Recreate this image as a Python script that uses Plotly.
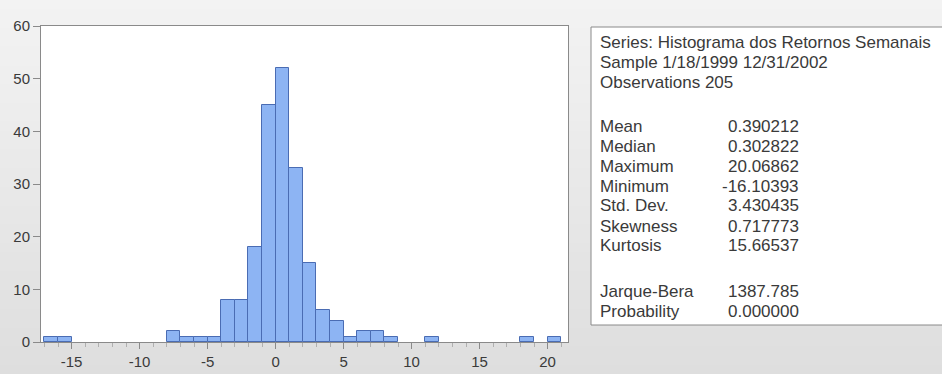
import plotly.graph_objects as go

# Histogram of weekly returns: bins of width 1, labelled by their left edge
bin_start = [-17, -16, -8, -7, -6, -5, -4, -3, -2, -1, 0, 1, 2, 3, 4, 5, 6, 7, 8, 11, 18, 20]
counts = [1, 1, 2, 1, 1, 1, 8, 8, 18, 45, 52, 33, 15, 6, 4, 1, 2, 2, 1, 1, 1, 1]

x_ticks = [-15, -10, -5, 0, 5, 10, 15, 20]
x_tick_labels = ["-15", "-10", "-5", "0", "5", "10", "15", "20"]
y_ticks = [0, 10, 20, 30, 40, 50, 60]

header_lines = [
    "Series: Histograma dos Retornos Semanais",
    "Sample 1/18/1999 12/31/2002",
    "Observations 205",
]
stat_names = ["Mean", "Median", "Maximum", "Minimum", "Std. Dev.", "Skewness", "Kurtosis"]
stat_values = ["0.390212", "0.302822", "20.06862", "-16.10393", "3.430435", "0.717773", "15.66537"]
test_names = ["Jarque-Bera", "Probability"]
test_values = ["1387.785", "0.000000"]

W, H = 942, 374
ML, MR, MT, MB = 41, 374, 26, 32
PW, PH = W - ML - MR, H - MT - MB


def px(x):
    return (x - ML) / PW


def py(y):
    return (H - MB - y) / PH


FONT = "Liberation Sans, Arial, sans-serif"
TXT = "#3a3a3a"

fig = go.Figure()
fig.add_trace(go.Bar(
    x=[b + 0.5 for b in bin_start],
    y=counts,
    width=1,
    marker=dict(color="#8db4f3", line=dict(color="#4a6cb3", width=1)),
    hoverinfo="x+y",
))

shapes = []
# soft vertical gradient behind everything
n = 40
top_c, bot_c = (243, 243, 243), (222, 222, 222)
for i in range(n):
    t = i / (n - 1)
    c = tuple(round(top_c[k] + (bot_c[k] - top_c[k]) * t) for k in range(3))
    y0 = H * i / n
    y1 = H * (i + 1) / n + 1
    shapes.append(dict(type="rect", xref="paper", yref="paper", layer="below",
                       x0=px(-5), x1=px(W + 5), y0=py(y1), y1=py(y0),
                       fillcolor="rgb(%d,%d,%d)" % c, line=dict(width=0)))
# white plot area
shapes.append(dict(type="rect", xref="paper", yref="paper", layer="below",
                   x0=0, x1=1, y0=0, y1=1, fillcolor="white", line=dict(width=0)))
# statistics panel
shapes.append(dict(type="rect", xref="paper", yref="paper", layer="below",
                   x0=px(591), x1=px(W + 10), y0=py(325), y1=py(27),
                   fillcolor="white", line=dict(color="#8a8a8a", width=1)))

annotations = []


def txt(x, y, s, anchor):
    annotations.append(dict(xref="paper", yref="paper", x=px(x), y=py(y), text=s,
                            showarrow=False, xanchor=anchor, yanchor="middle",
                            font=dict(family=FONT, size=17, color=TXT)))


ys = [43, 63, 83]
for s, y in zip(header_lines, ys):
    txt(598, y, s, "left")
for i, (nm, v) in enumerate(zip(stat_names, stat_values)):
    y = 126 + 20 * i
    txt(598, y, nm, "left")
    txt(801, y, v, "right")
for i, (nm, v) in enumerate(zip(test_names, test_values)):
    y = 291 + 20 * i
    txt(598, y, nm, "left")
    txt(801, y, v, "right")

fig.update_layout(
    width=W, height=H,
    margin=dict(l=ML, r=MR, t=MT, b=MB, pad=0),
    paper_bgcolor="#efefef",
    plot_bgcolor="rgba(0,0,0,0)",
    showlegend=False,
    bargap=0,
    shapes=shapes,
    annotations=annotations,
    font=dict(family=FONT, size=15, color=TXT),
    xaxis=dict(
        range=[-17.25, 21.5],
        automargin=False,
        tickmode="array", tickvals=x_ticks, ticktext=x_tick_labels,
        ticks="outside", ticklen=6, tickcolor="#8a8a8a", tickwidth=1,
        minor=dict(dtick=1, tick0=0, ticks="outside", ticklen=4, tickcolor="#b0b0b0"),
        showgrid=False, zeroline=False,
        showline=True, linecolor="#8a8a8a", linewidth=1, mirror=True,
        tickfont=dict(family=FONT, size=15, color=TXT),
    ),
    yaxis=dict(
        range=[0, 60],
        automargin=False,
        tickmode="array", tickvals=y_ticks,
        ticks="outside", ticklen=7, tickcolor="#8a8a8a", tickwidth=1,
        showgrid=False, zeroline=False,
        showline=True, linecolor="#8a8a8a", linewidth=1, mirror=True,
        tickfont=dict(family=FONT, size=15, color=TXT),
    ),
)

fig.write_html("out.html")
